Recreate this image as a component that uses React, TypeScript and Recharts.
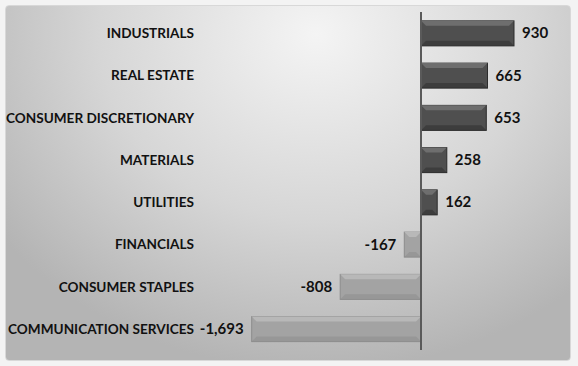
import { BarChart, Bar, XAxis, YAxis, ReferenceLine, LabelList } from "recharts";

const sectors = [
  "INDUSTRIALS",
  "REAL ESTATE",
  "CONSUMER DISCRETIONARY",
  "MATERIALS",
  "UTILITIES",
  "FINANCIALS",
  "CONSUMER STAPLES",
  "COMMUNICATION SERVICES",
];
const values = [930, 665, 653, 258, 162, -167, -808, -1693];

const data = sectors.map((s, i) => ({ sector: s, value: values[i] }));

const FONT = "Lato, 'Open Sans', sans-serif";

// bevelled bar, dark for gains, light for losses
function BevelBar(props: any) {
  const { x, y, width, height, value } = props;
  const x0 = width < 0 ? x + width : x;
  const w = Math.abs(width);
  const pos = value >= 0;
  const base = pos ? "#4f4f4f" : "#a3a3a3";
  const light = pos ? "#6e6e6e" : "#b8b8b8";
  const dark = pos ? "#2c2c2c" : "#8c8c8c";
  const b = Math.min(5, w / 3);
  return (
    <g>
      <rect x={x0} y={y} width={w} height={height} fill={base} stroke={dark} strokeWidth={1} />
      <polygon points={`${x0},${y} ${x0 + w},${y} ${x0 + w - b},${y + b} ${x0 + b},${y + b}`} fill={light} />
      <polygon points={`${x0},${y + height} ${x0 + w},${y + height} ${x0 + w - b},${y + height - b} ${x0 + b},${y + height - b}`} fill={dark} opacity={0.5} />
    </g>
  );
}

function ValueLabel(props: any) {
  const { x, y, width, height, value } = props;
  const neg = value < 0;
  const end = x + width;
  const tx = neg ? end - 8 : end + 8;
  const txt = value.toLocaleString("en-US");
  return (
    <text
      x={tx}
      y={y + height / 2}
      dy={5}
      textAnchor={neg ? "end" : "start"}
      fontFamily={FONT}
      fontWeight={700}
      fontSize={15}
      fill="#111"
    >
      {txt}
    </text>
  );
}

function SectorTick(props: any) {
  const { x, y, payload } = props;
  return (
    <text x={x} y={y} dy={5} textAnchor="end" fontFamily={FONT} fontWeight={700} fontSize={13.6} fill="#111">
      {payload.value}
    </text>
  );
}

export default function App() {
  return (
    <div style={{ position: "absolute", left: 0, top: 0, width: 578, height: 366, background: "#f3f3f3" }}>
      <div
        style={{
          position: "absolute",
          left: 5,
          top: 5,
          width: 564,
          height: 354,
          borderRadius: 4,
          border: "1px solid #d8d8d8",
          background: "radial-gradient(ellipse 70% 95% at 55% 8%, #f4f4f4 0%, #d6d6d6 55%, #b4b4b4 100%)",
        }}
      />
      <div style={{ position: "absolute", left: 0, top: 0 }}>
        <BarChart
          width={578}
          height={366}
          data={data}
          layout="vertical"
          margin={{ top: 12, right: 18, bottom: 16, left: 0 }}
          barCategoryGap="21%"
        >
          <XAxis type="number" hide domain={[-2210, 1390]} allowDataOverflow />
          <YAxis
            type="category"
            dataKey="sector"
            width={200}
            axisLine={false}
            tickLine={false}
            tickMargin={0}
            tick={<SectorTick />}
          />
          <Bar dataKey="value" shape={<BevelBar />} isAnimationActive={false}>
            <LabelList dataKey="value" content={<ValueLabel />} />
          </Bar>
          <ReferenceLine x={0} stroke="#5a5a5a" strokeWidth={2} />
        </BarChart>
      </div>
    </div>
  );
}
